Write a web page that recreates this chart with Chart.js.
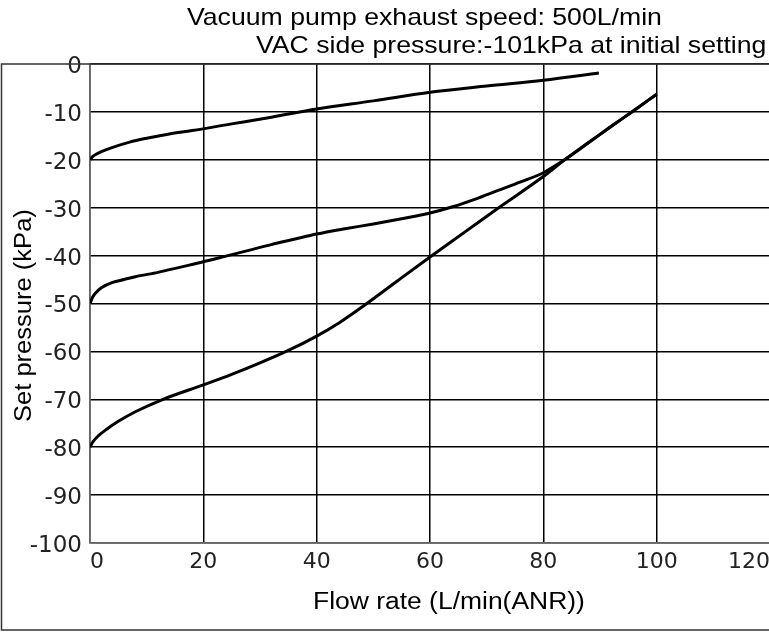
<!DOCTYPE html>
<html lang="en">
<head>
    <meta charset="UTF-8">
    <title>Set pressure vs flow rate</title>
    <script src="https://cdn.jsdelivr.net/npm/chart.js"></script>
    <style>
        html, body { margin: 0; padding: 0; background: #fff; overflow: hidden; }
        .wrap { width: 776px; height: 632px; }
    </style>
</head>
<body>
    <div class="wrap">
        <canvas id="grafico"></canvas>
    </div>

    <script>
        // Textos do gráfico
        const titulo1 = 'Vacuum pump exhaust speed: 500L/min';
        const titulo2 = 'VAC side pressure:-101kPa at initial setting';
        const tituloX = 'Flow rate (L/min(ANR))';
        const tituloY = 'Set pressure (kPa)';

        // Marcas dos eixos
        const ticksX = [0, 20, 40, 60, 80, 100, 120];
        const ticksY = [0, -10, -20, -30, -40, -50, -60, -70, -80, -90, -100];

        // Curva que parte de -20 kPa
        const vazao20 = [0, 0.5, 1, 2, 4, 7, 10, 14, 18, 25, 32, 40, 50, 60, 70, 80, 89.8];
        const pressao20 = [-20, -19.3, -18.9, -18.3, -17.4, -16.3, -15.5, -14.6, -13.9, -12.5, -11.1, -9.4, -7.7, -5.9, -4.6, -3.4, -1.9];

        // Curva que parte de -50 kPa
        const vazao50 = [0, 0.5, 1, 2, 4, 6, 8, 12, 16, 20, 24, 28, 32, 36, 40, 45, 50, 55, 60, 64, 68, 72, 76, 80, 84, 88, 92, 96, 100];
        const pressao50 = [-50, -48.6, -47.8, -46.7, -45.6, -45, -44.4, -43.5, -42.4, -41.3, -40.1, -38.9, -37.7, -36.6, -35.5, -34.4, -33.4, -32.3, -31.1, -29.8, -28.2, -26.4, -24.6, -22.7, -19.8, -16.4, -13, -9.7, -6.3];

        // Curva que parte de -80 kPa
        const vazao80 = [0, 0.5, 1.5, 3, 5, 8, 12.9, 20, 25, 30, 35, 40, 44, 48.5, 54, 60, 66, 72, 80, 84, 88, 92, 96, 100];
        const pressao80 = [-80, -78.9, -77.6, -76.2, -74.6, -72.6, -70, -67, -64.8, -62.4, -59.8, -56.8, -54, -50.3, -45.5, -40.3, -35.2, -30.1, -23.5, -19.8, -16.4, -13, -9.7, -6.3];

        const pontos = (xs, ys) => xs.map((x, i) => ({ x: x, y: ys[i] }));

        const fonteTexto = '"Liberation Sans", Arial, sans-serif';

        // Texto levemente esticado na horizontal, como no original
        function textoEsticado(ctx, texto, x, y, escala, angulo) {
            ctx.save();
            ctx.translate(x, y);
            if (angulo) ctx.rotate(angulo);
            ctx.scale(escala, 1);
            ctx.fillText(texto, 0, 0);
            ctx.restore();
        }

        const moldura = {
            id: 'moldura',
            afterDraw(chart) {
                const ctx = chart.ctx;
                ctx.save();
                ctx.strokeStyle = '#333';
                ctx.lineWidth = 1.5;
                ctx.strokeRect(1.5, 64, 800, 566);

                ctx.fillStyle = '#000';
                ctx.textAlign = 'left';
                ctx.textBaseline = 'alphabetic';
                ctx.font = '24px ' + fonteTexto;
                textoEsticado(ctx, titulo1, 187, 25, 1.11);
                textoEsticado(ctx, titulo2, 256, 53, 1.11);

                ctx.font = '23px ' + fonteTexto;
                textoEsticado(ctx, tituloX, 313, 609, 1.15);
                textoEsticado(ctx, tituloY, 31, 422, 1.11, -Math.PI / 2);
                ctx.restore();
            }
        };

        const serie = (dados) => ({
            data: dados,
            showLine: true,
            borderColor: '#000',
            borderWidth: 3,
            pointRadius: 0,
            cubicInterpolationMode: 'monotone',
            fill: false
        });

        new Chart(document.getElementById('grafico'), {
            type: 'scatter',
            data: {
                datasets: [
                    serie(pontos(vazao20, pressao20)),
                    serie(pontos(vazao50, pressao50)),
                    serie(pontos(vazao80, pressao80))
                ]
            },
            options: {
                responsive: true,
                maintainAspectRatio: false,
                animation: false,
                layout: { padding: { top: 64, left: 0, right: 5, bottom: 0 } },
                plugins: {
                    legend: { display: false },
                    tooltip: { enabled: false }
                },
                scales: {
                    x: {
                        type: 'linear',
                        min: ticksX[0],
                        max: ticksX[ticksX.length - 1],
                        afterBuildTicks: (s) => { s.ticks = ticksX.map(v => ({ value: v })); },
                        afterFit: (s) => { s.height = 89; },
                        grid: { color: '#000', lineWidth: 1.5, drawTicks: false },
                        border: { color: '#666', width: 1.5 },
                        ticks: { color: '#222', font: { family: '"DejaVu Sans", sans-serif', size: 22 }, padding: 6, align: 'inner', maxRotation: 0 }
                    },
                    y: {
                        type: 'linear',
                        min: ticksY[ticksY.length - 1],
                        max: ticksY[0],
                        afterBuildTicks: (s) => { s.ticks = ticksY.map(v => ({ value: v })); },
                        afterFit: (s) => { s.width = 90; },
                        grid: { color: '#000', lineWidth: 1.5, drawTicks: false },
                        border: { color: '#666', width: 1.5 },
                        ticks: { color: '#222', font: { family: '"DejaVu Sans", sans-serif', size: 23 }, padding: 8, labelOffset: 3 }
                    }
                }
            },
            plugins: [moldura]
        });
    </script>
</body>
</html>
